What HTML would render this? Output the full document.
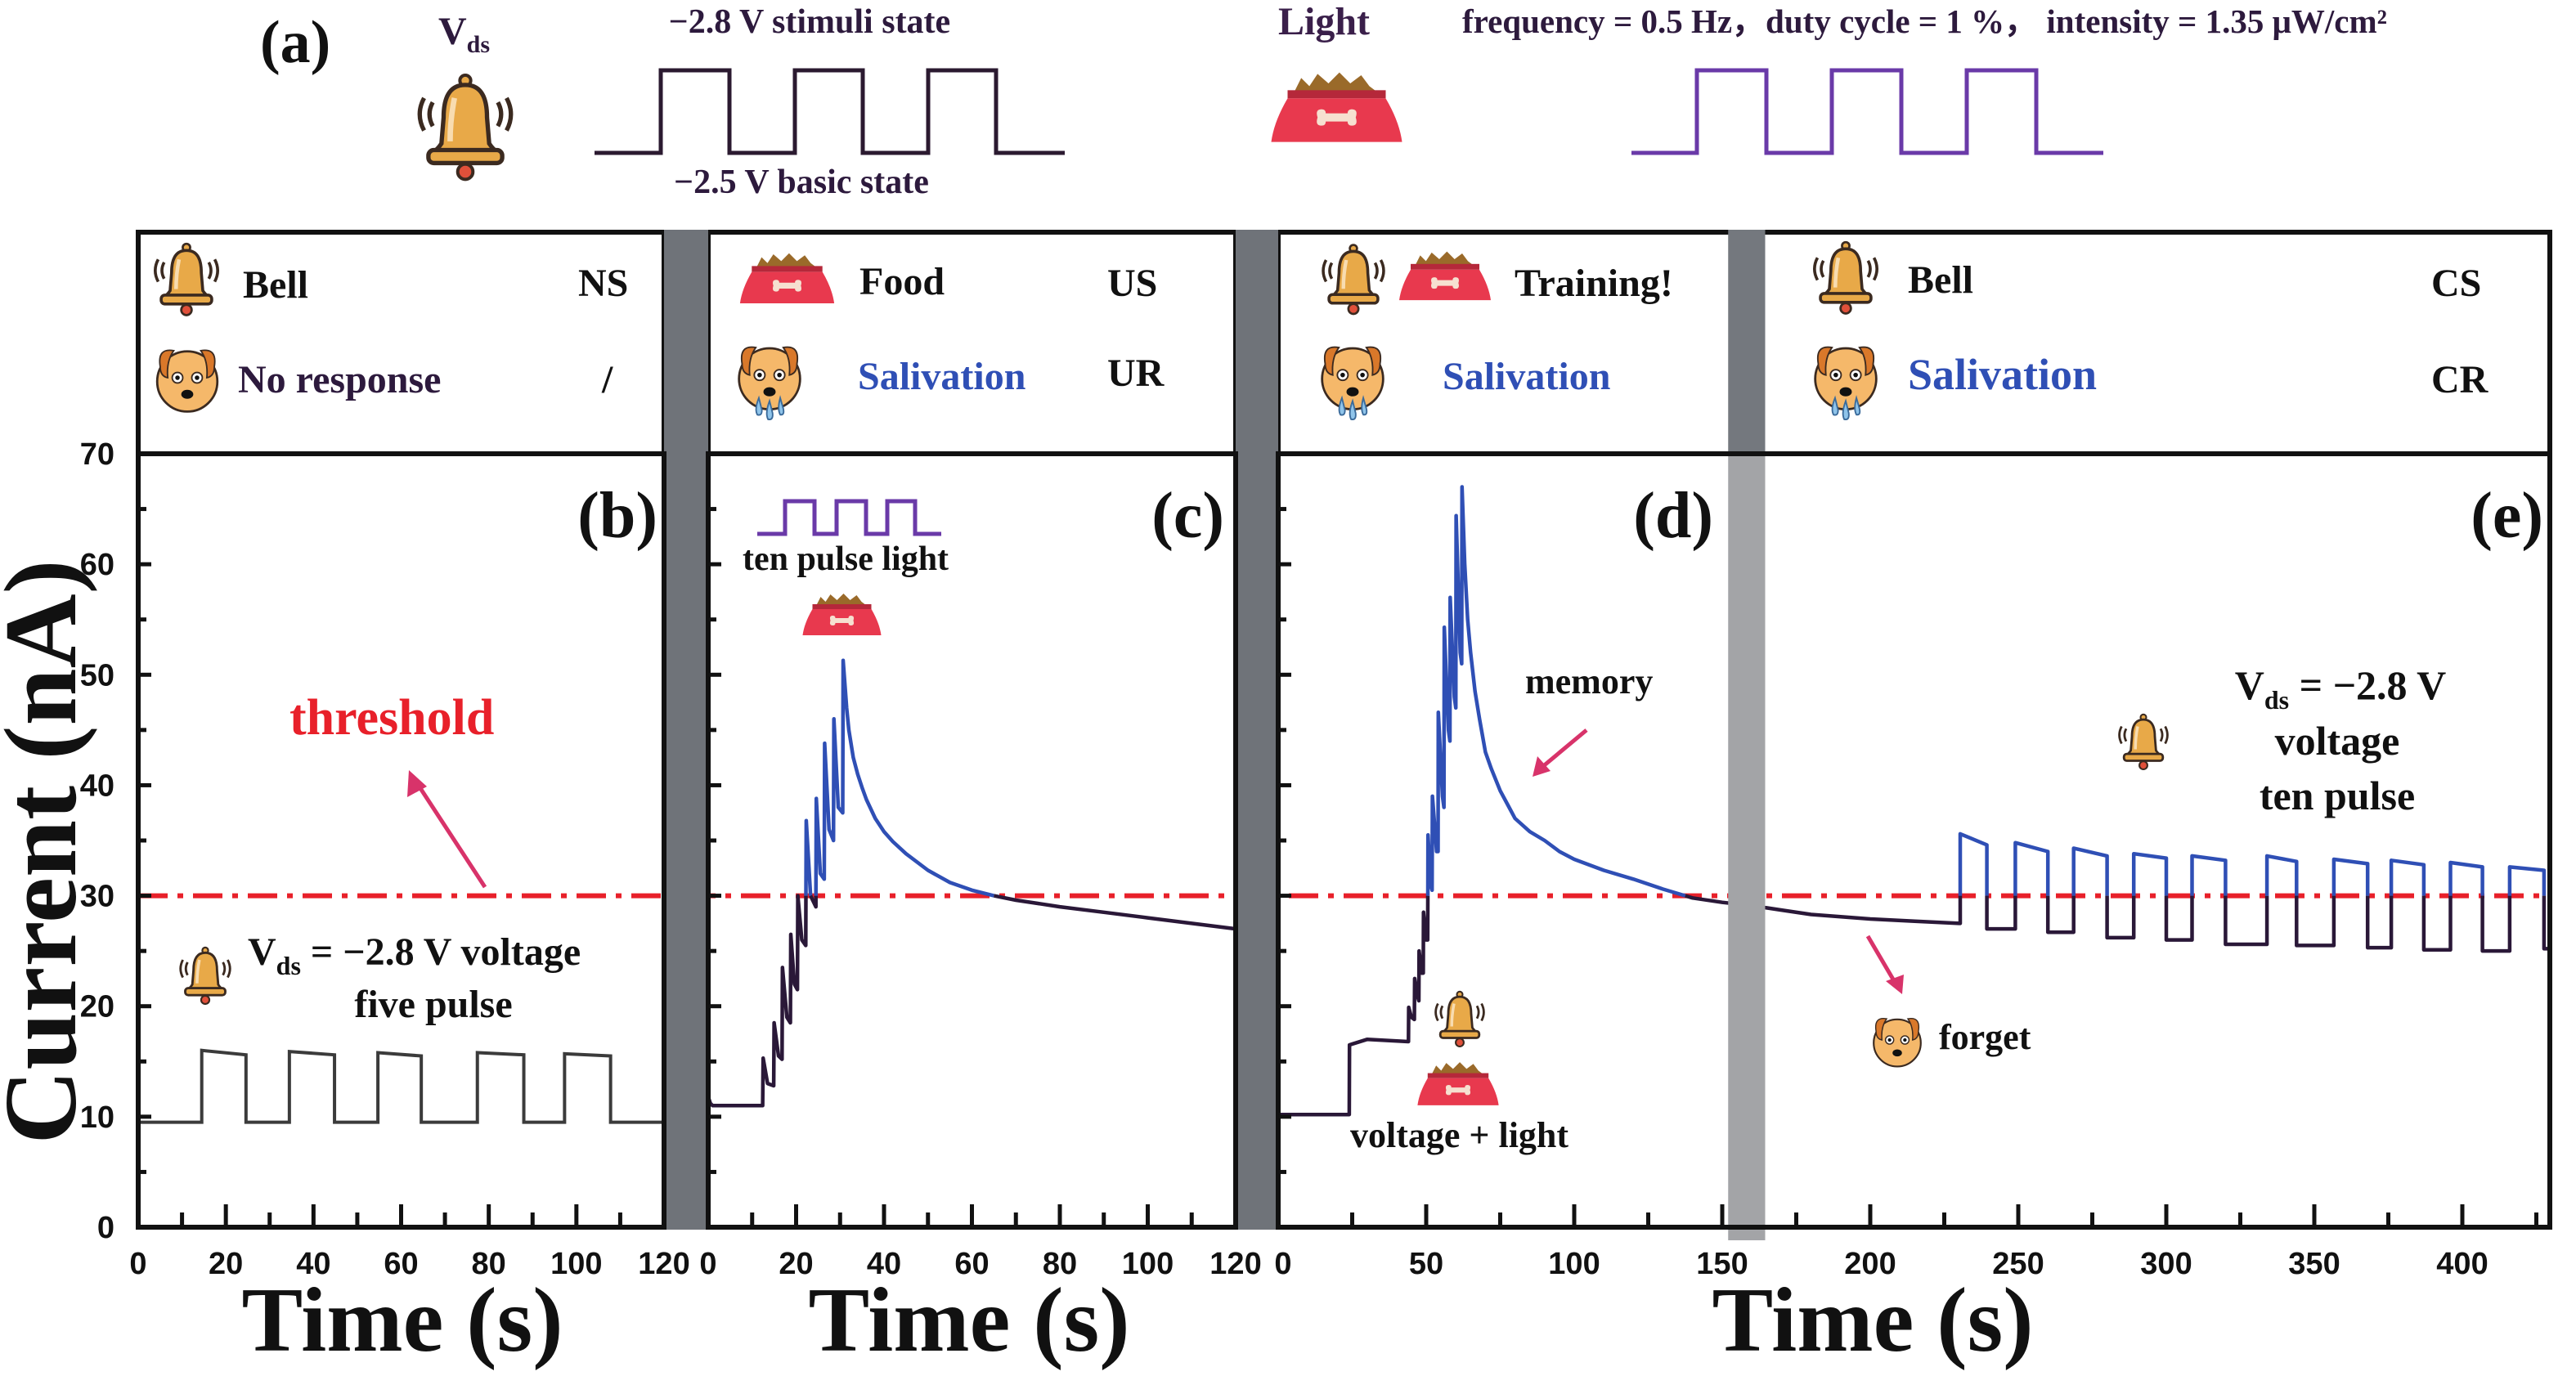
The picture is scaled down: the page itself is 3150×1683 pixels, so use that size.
<!DOCTYPE html>
<html><head><meta charset="utf-8"><style>
body{margin:0;background:#fff;}
svg{display:block;}
.serif{font-family:"Liberation Serif",serif;font-weight:bold;}
.sans{font-family:"Liberation Sans",sans-serif;font-weight:bold;}
</style></head><body>
<svg id="fig" width="3150" height="1683" viewBox="0 0 3150 1683" xmlns="http://www.w3.org/2000/svg">
<defs>
<symbol id="bell" viewBox="0 0 100 110">
 <path d="M12 30 Q4 45 12 60 M20 34 Q14 45 20 56 M88 30 Q96 45 88 60 M80 34 Q86 45 80 56" stroke="#3b2a20" stroke-width="4" fill="none"/>
 <circle cx="50" cy="14" r="5" fill="#e8a948" stroke="#3b2a20" stroke-width="3"/>
 <path d="M50 18 C34 18 30 32 30 48 L28 72 Q24 78 20 80 L80 80 Q76 78 72 72 L70 48 C70 32 66 18 50 18Z" fill="#e8a948" stroke="#3b2a20" stroke-width="4"/>
 <path d="M40 30 Q36 50 36 70" stroke="#f8dcb0" stroke-width="5" fill="none"/>
 <rect x="16" y="78" width="68" height="12" rx="5" fill="#e8a948" stroke="#3b2a20" stroke-width="4"/>
 <circle cx="50" cy="98" r="7" fill="#e0503a" stroke="#3b2a20" stroke-width="3"/>
</symbol>
<symbol id="bowl" viewBox="0 0 100 60">
 <path d="M18 20 L24 8 L30 14 L36 5 L44 12 L52 4 L60 12 L68 6 L74 14 L82 20Z" fill="#9a6a2a"/>
 <rect x="14" y="17" width="72" height="6" fill="#b5283a"/>
 <path d="M14 23 L86 23 Q96 40 98 55 L2 55 Q4 40 14 23Z" fill="#e8394e"/>
 <path d="M36 37 Q34 31 39 31 Q42 31 42 34 L58 34 Q58 31 61 31 Q66 31 64 37 Q66 43 61 43 Q58 43 58 40 L42 40 Q42 43 39 43 Q34 43 36 37Z" fill="#f6e0d0"/>
</symbol>
<symbol id="dog" viewBox="0 0 100 100">
 <circle cx="50" cy="55" r="40" fill="#f5b86a" stroke="#3b2a20" stroke-width="3"/>
 <path d="M14 35 Q10 10 32 14 Q22 28 24 50 Q14 48 14 35Z" fill="#d9782a" stroke="#3b2a20" stroke-width="2"/>
 <path d="M86 35 Q90 10 68 14 Q78 28 76 50 Q86 48 86 35Z" fill="#d9782a" stroke="#3b2a20" stroke-width="2"/>
 <circle cx="37" cy="50" r="7" fill="#fff" stroke="#3b2a20" stroke-width="2"/><circle cx="37" cy="50" r="3" fill="#111"/>
 <circle cx="63" cy="50" r="7" fill="#fff" stroke="#3b2a20" stroke-width="2"/><circle cx="63" cy="50" r="3" fill="#111"/>
 <ellipse cx="50" cy="72" rx="8" ry="6" fill="#111"/>
</symbol>
<symbol id="dogtear" viewBox="0 0 100 120">
 <use href="#dog" x="0" y="0" width="100" height="100"/>
 <path d="M36 80 Q30 95 34 102 Q40 104 40 96Z M50 84 Q44 100 48 108 Q55 110 54 100Z M64 80 Q60 95 64 102 Q70 103 68 94Z" fill="#8fc4ea" stroke="#3a6a9a" stroke-width="2"/>
</symbol>
</defs>

<!-- (a) header -->
<text class="serif" x="318" y="76" font-size="74" fill="#111">(a)</text>
<text class="serif" x="536" y="54" font-size="48" fill="#2d1a3d">V<tspan font-size="30" dy="10">ds</tspan></text>
<use href="#bell" x="496" y="80" width="146" height="146"/>
<polyline points="727,187 808,187 808,86 892,86 892,187 972,187 972,86 1055,86 1055,187 1135,187 1135,86 1218,86 1218,187 1302,187" fill="none" stroke="#2b1a30" stroke-width="5"/>
<text class="serif" x="990" y="40" font-size="42" fill="#2d1a3d" text-anchor="middle">−2.8 V stimuli state</text>
<text class="serif" x="980" y="236" font-size="42" fill="#2d1a3d" text-anchor="middle">−2.5 V basic state</text>
<text class="serif" x="1563" y="42" font-size="48" fill="#3a1f4a">Light</text>
<use href="#bowl" x="1537" y="82" width="195" height="100"/>
<text class="serif" x="1788" y="40" font-size="41" fill="#2d1a3d">frequency = 0.5 Hz，duty cycle = 1 %，  intensity = 1.35 μW/cm²</text>
<polyline points="1995,187 2075,187 2075,86 2160,86 2160,187 2240,187 2240,86 2325,86 2325,187 2405,187 2405,86 2490,86 2490,187 2572,187" fill="none" stroke="#6a3aa8" stroke-width="5"/>

<!-- legend boxes -->
<g>
<rect x="169" y="284" width="643" height="271" fill="none" stroke="#111" stroke-width="6"/>
<rect x="866" y="284" width="645" height="271" fill="none" stroke="#111" stroke-width="6"/>
<rect x="1563" y="284" width="1555" height="271" fill="none" stroke="#111" stroke-width="6"/>
</g>
<g class="serif" font-size="48" fill="#111">
<use href="#bell" x="181" y="290" width="94" height="100"/>
<text x="297" y="364">Bell</text>
<text x="707" y="362">NS</text>
<use href="#dog" x="183" y="416" width="92" height="92"/>
<text x="291" y="480" fill="#2d1a3d">No response</text>
<text x="736" y="480">/</text>

<use href="#bowl" x="890" y="305" width="145" height="72"/>
<text x="1051" y="360">Food</text>
<text x="1354" y="362">US</text>
<use href="#dogtear" x="894" y="412" width="94" height="112"/>
<text x="1049" y="476" fill="#2f4fb5">Salivation</text>
<text x="1354" y="472">UR</text>

<use href="#bell" x="1611" y="290" width="88" height="100"/>
<use href="#bowl" x="1706" y="303" width="122" height="70"/>
<text x="1852" y="362">Training!</text>
<use href="#dogtear" x="1607" y="412" width="94" height="112"/>
<text x="1764" y="476" fill="#2f4fb5">Salivation</text>

<use href="#bell" x="2210" y="288" width="94" height="100"/>
<text x="2333" y="358">Bell</text>
<text x="2973" y="362">CS</text>
<use href="#dogtear" x="2210" y="412" width="94" height="112"/>
<text x="2333" y="476" fill="#2f4fb5" font-size="54">Salivation</text>
<text x="2973" y="480">CR</text>
</g>

<g id="plots"></g>
<g id="over"></g>

<!-- annotations -->
<text class="serif" x="804" y="657" font-size="80" fill="#111" text-anchor="end">(b)</text>
<text class="serif" x="1497" y="657" font-size="80" fill="#111" text-anchor="end">(c)</text>
<text class="serif" x="2095" y="657" font-size="80" fill="#111" text-anchor="end">(d)</text>
<text class="serif" x="3110" y="657" font-size="80" fill="#111" text-anchor="end">(e)</text>

<text class="serif" x="354" y="898" font-size="62" fill="#e8202a">threshold</text>
<line x1="593" y1="1085" x2="510" y2="958" stroke="#d8336a" stroke-width="5"/>
<polygon points="500,942 498,975 522,962" fill="#d8336a"/>
<use href="#bell" x="215" y="1152" width="72" height="80"/>
<text class="serif" x="303" y="1180" font-size="48" fill="#111">V<tspan font-size="32" dy="12">ds</tspan><tspan dy="-12"> = −2.8 V voltage</tspan></text>
<text class="serif" x="530" y="1244" font-size="48" fill="#111" text-anchor="middle">five pulse</text>

<polyline points="926,653 960,653 960,613 996,613 996,653 1023,653 1023,613 1059,613 1059,653 1085,653 1085,613 1119,613 1119,653 1151,653" fill="none" stroke="#6a3aa8" stroke-width="5"/>
<text class="serif" x="908" y="697" font-size="42" fill="#111">ten pulse light</text>
<use href="#bowl" x="964" y="722" width="131" height="60"/>

<text class="serif" x="1865" y="848" font-size="44" fill="#111">memory</text>
<line x1="1940" y1="893" x2="1886" y2="938" stroke="#d8336a" stroke-width="5"/>
<polygon points="1874,950 1880,925 1896,943" fill="#d8336a"/>
<use href="#bell" x="1750" y="1206" width="70" height="78"/>
<use href="#bowl" x="1718" y="1295" width="130" height="62"/>
<text class="serif" x="1651" y="1403" font-size="44" fill="#111">voltage + light</text>
<line x1="2284" y1="1145" x2="2318" y2="1203" stroke="#d8336a" stroke-width="5"/>
<polygon points="2326,1216 2306,1200 2328,1192" fill="#d8336a"/>
<use href="#dog" x="2284" y="1236" width="72" height="72"/>
<text class="serif" x="2371" y="1283" font-size="44" fill="#111">forget</text>
<use href="#bell" x="2586" y="866" width="70" height="80"/>
<text class="serif" x="2862" y="855" font-size="50" fill="#111" text-anchor="middle">V<tspan font-size="32" dy="12">ds</tspan><tspan dy="-12"> = −2.8 V</tspan></text>
<text class="serif" x="2858" y="923" font-size="50" fill="#111" text-anchor="middle">voltage</text>
<text class="serif" x="2858" y="990" font-size="50" fill="#111" text-anchor="middle">ten pulse</text>

<text class="serif" font-size="126" fill="#111" text-anchor="middle" transform="translate(92,1042) rotate(-90)">Current (nA)</text>
<text class="serif" x="492" y="1652" font-size="112" fill="#111" text-anchor="middle">Time (s)</text>
<text class="serif" x="1185" y="1652" font-size="112" fill="#111" text-anchor="middle">Time (s)</text>
<text class="serif" x="2290" y="1652" font-size="112" fill="#111" text-anchor="middle">Time (s)</text>
</svg>
<script>
// ---- data ----
const yTicks = [0,10,20,30,40,50,60,70];
const bcTicks = [0,20,40,60,80,100,120];
const deTicks = [0,50,100,150,200,250,300,350,400];
const threshold = 30;
const bBase = 9.5;
const bRise = [14.5,34.5,54.7,77.4,97.3];
const bFall = [24.6,44.8,64.6,88,107.8];
const bHigh = [16,15.9,15.8,15.8,15.7];
const bHighEnd = [15.6,15.6,15.5,15.6,15.5];
const cT = [0,0.5,1,12.4,12.5,13.5,14.9,15,16,16.8,16.9,17.9,18.7,18.8,19.6,20.3,20.4,21.3,22.2,22.3,23.3,24.5,24.6,25.5,26.4,26.5,27.5,28.5,28.6,29.6,30.6,30.7,31.5,32,33,34,35,36,38,40,42,45,50,55,60,65,70,75,80,90,100,110,120];
const cV = [11.8,11.2,11.0,11.0,15.3,13,12.8,18.5,15.5,15.2,23.5,19,18.5,26.5,22,21.5,30,26,25.5,36.8,30,29,38.8,32,31.5,43.8,36,35,46,38,37.5,51.3,47,45,42.5,41,39.8,38.7,37,35.8,34.9,33.8,32.3,31.2,30.5,30,29.6,29.3,29,28.5,28,27.5,27];
const dT = [0,24,24.1,30,44,44.1,45,46,46.1,47,47.5,47.6,48.5,49,49.1,50,50.5,50.6,51.5,52,52.1,53.5,54,54.1,55.5,56,56.1,57.5,58,58.1,59.5,60,60.1,61.5,62,62.1,63,64,65,66.5,68,70,72,75,78,80,85,90,95,100,110,120,130,140,150,160,170,180,190,200,215,230];
const dV = [10.2,10.2,16.5,17,16.8,19.9,19,18.8,22.5,21,20.5,25,23,23,28.5,26,26,35.5,31,30.5,39,34,34,46.6,39,38,54.3,45,44,57,48,47,64.4,52,51,67,60,55,52,48.5,46,43,41.5,39.5,38,37,35.8,35,34,33.3,32.3,31.5,30.6,29.8,29.4,29.1,28.7,28.3,28.1,27.9,27.7,27.5];
const eRise = [230.4,249,268.7,289,308.7,334,356.6,376,396,416];
const eFall = [239.4,260,280,300,320,344,368,387,406.8,427.6];
const eHigh = [35.6,34.8,34.3,33.8,33.6,33.6,33.3,33.2,33,32.6];
const eHighEnd = [34.6,34,33.6,33.4,33.2,33.1,32.9,32.8,32.6,32.3];
const eLow = [27,26.7,26.2,26,25.6,25.5,25.3,25.1,25,25.2];

// ---- axes ----
const Y0 = 1501, Y70 = 555;
const yS = v => Y0 - (v/70)*(Y0-Y70);
const xB = t => 169 + t*(812-169)/120;
const xC = t => 866 + t*(1511-866)/120;
const xD = t => 1563 + t*3.62;
const NS = 'http://www.w3.org/2000/svg';
const plots = document.getElementById('plots');
const over = document.getElementById('over');
function mk(tag, attrs, parent){const e=document.createElementNS(NS,tag);for(const k in attrs)e.setAttribute(k,attrs[k]);(parent||plots).appendChild(e);return e;}

// threshold line
const th = mk('line',{x1:169,x2:3118,y1:yS(threshold),y2:yS(threshold),stroke:'#e8202a','stroke-width':6,'stroke-dasharray':'36 12 7 12'});



// panel b curve
let bp = [[0,bBase]];
for(let i=0;i<bRise.length;i++){bp.push([bRise[i],bBase],[bRise[i],bHigh[i]],[bFall[i],bHighEnd[i]],[bFall[i],bBase]);}
bp.push([120,bBase]);
const bl = mk('polyline',{points:bp.map(p=>xB(p[0])+','+yS(p[1])).join(' '),fill:'none',stroke:'#3b3b3b','stroke-width':4});



function colored(pts, xf, name){
  const runs=[]; let cur=null;
  const col=v=>v>=threshold?'#2f4fb5':'#2a1838';
  for(let i=0;i<pts.length-1;i++){
    let [t1,v1]=pts[i],[t2,v2]=pts[i+1];
    let segs=[];
    if((v1-threshold)*(v2-threshold)<0){const f=(threshold-v1)/(v2-v1);const tm=t1+f*(t2-t1);segs.push([[t1,v1],[tm,threshold],col(v1)]);segs.push([[tm,threshold],[t2,v2],col(v2)]);}
    else segs.push([[t1,v1],[t2,v2],col((v1+v2)/2)]);
    for(const s of segs){
      if(cur&&cur.c===s[2]){cur.p.push(s[1]);}else{cur={c:s[2],p:[s[0],s[1]]};runs.push(cur);}
    }
  }
  for(const r of runs){
    const pl=mk('polyline',{points:r.p.map(p=>xf(p[0]).toFixed(1)+','+yS(p[1]).toFixed(1)).join(' '),fill:'none',stroke:r.c,'stroke-width':4.5,'stroke-linejoin':'round'});
    
    
  }
}
colored(cT.map((t,i)=>[t,cV[i]]), xC, 'series-c-current');
let dp = dT.map((t,i)=>[t,dV[i]]);
for(let i=0;i<eRise.length;i++){
  const prev = i===0?dV[dV.length-1]:eLow[i-1];
  dp.push([eRise[i],prev],[eRise[i],eHigh[i]],[eFall[i],eHighEnd[i]],[eFall[i],eLow[i]]);
}
dp.push([430,eLow[eLow.length-1]]);
colored(dp, xD, 'series-de-current');

// gray separators
const g1=mk('rect',{x:812,y:281,width:54,height:1223,fill:'#6f7379'},over);


const g2=mk('rect',{x:1511,y:281,width:52,height:1223,fill:'#6f7379'},over);


const g3=mk('rect',{x:xD(152),y:281,width:xD(164.5)-xD(152),height:274,fill:'#74787e'},over);


const g4=mk('rect',{x:xD(152),y:555,width:xD(164.5)-xD(152),height:962,fill:'#a3a4a7'},over);



// plot frames
[[169,812,'frame-b'],[866,1511,'frame-c'],[1563,3118,'frame-de']].forEach(f=>{
  const r=mk('rect',{x:f[0],y:555,width:f[1]-f[0],height:Y0-555,fill:'none',stroke:'#111','stroke-width':6},over);
  
  
});
// y ticks
[169,866,1563].forEach(x0=>{
  for(let v=5;v<70;v+=5){const major=v%10===0;mk('line',{x1:x0,x2:x0+(major?16:10),y1:yS(v),y2:yS(v),stroke:'#111','stroke-width':5},over);}
});
yTicks.forEach(v=>{
  const t=mk('text',{x:140,y:yS(v)+13,'font-size':38,'text-anchor':'end',class:'sans',fill:'#111'},over);
  t.textContent=v;
  
  
});
// x ticks
for(let t=10;t<120;t+=10){const m=t%20===0;mk('line',{x1:xB(t),x2:xB(t),y1:Y0,y2:Y0-(m?28:18),stroke:'#111','stroke-width':5},over);mk('line',{x1:xC(t),x2:xC(t),y1:Y0,y2:Y0-(m?28:18),stroke:'#111','stroke-width':5},over);}
for(let t=25;t<430;t+=25){const m=t%50===0;mk('line',{x1:xD(t),x2:xD(t),y1:Y0,y2:Y0-(m?28:18),stroke:'#111','stroke-width':5},over);}
bcTicks.forEach(t=>{
  [[xB,'x-tick-label-b'],[xC,'x-tick-label-c']].forEach(a=>{
    const e=mk('text',{x:a[0](t),y:1558,'font-size':38,'text-anchor':'middle',class:'sans',fill:'#111'},over);
    e.textContent=t;
    
    
  });
});
deTicks.forEach(t=>{
  const e=mk('text',{x:xD(t)+(t===0?6:0),y:1558,'font-size':38,'text-anchor':'middle',class:'sans',fill:'#111'},over);
  e.textContent=t;
  
  
});
</script>
</body></html>
